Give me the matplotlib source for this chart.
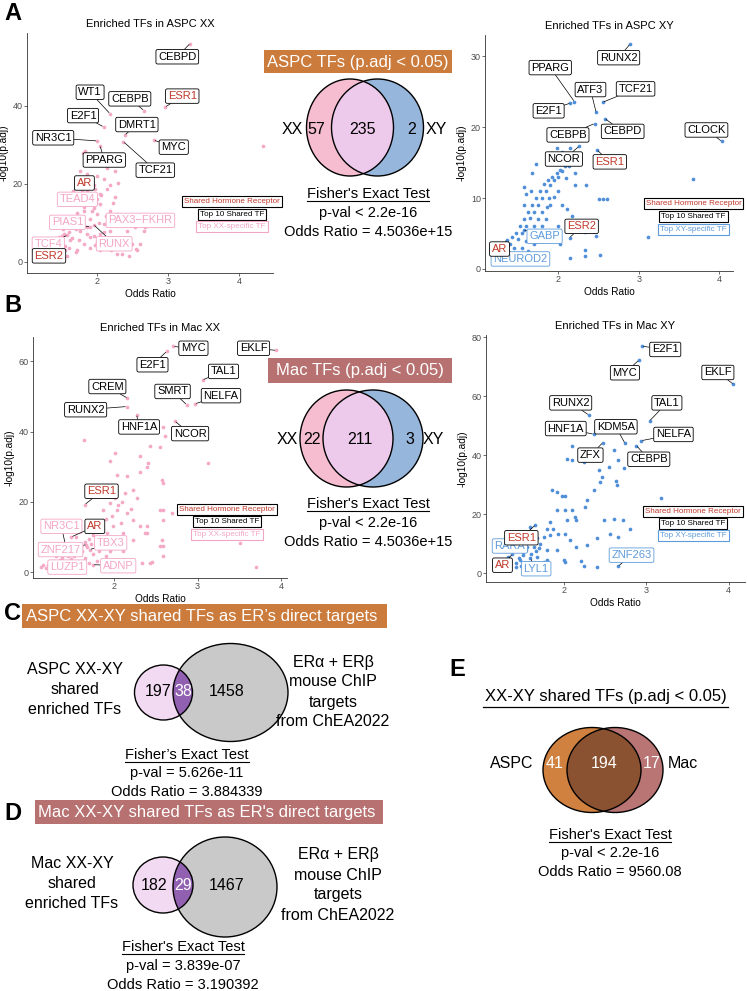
import numpy as np
import matplotlib
matplotlib.use("Agg")
import matplotlib.pyplot as plt
from matplotlib.patches import Ellipse, Rectangle

plt.rcParams['font.family'] = ['Liberation Sans', 'DejaVu Sans']

W, H = 747, 991

# ---------------- data ----------------
# ASPC XX enriched TFs (odds ratio, -log10 p.adj), unlabelled points
aspc_xx_or = [1.80, 1.85, 1.90, 2.04, 2.14, 2.25, 1.76, 1.88, 2.00, 2.09, 2.18, 2.30, 1.95, 1.85, 1.97,
              2.04, 2.14, 2.25, 1.69, 1.81, 1.95, 2.04, 2.18, 1.57, 1.69, 1.85, 2.00, 2.09, 2.28, 2.37,
              1.76, 1.90, 2.04, 2.18, 1.53, 1.62, 1.38, 1.46, 1.81, 1.97, 1.71, 2.04, 2.28, 2.49, 2.56,
              2.68, 2.54, 2.42, 2.14, 1.38, 1.29, 4.34, 2.66, 2.60, 2.55, 1.45, 1.50, 1.55, 1.60, 1.65,
              1.70, 1.75, 1.80, 1.85, 1.90, 1.95, 1.60, 1.70, 1.75, 1.82, 1.88, 1.92, 1.78, 1.98, 2.02,
              2.10, 1.66, 1.72, 1.52, 1.42, 1.48, 1.58, 1.90, 2.00, 2.12, 2.20, 2.35, 2.45, 1.35, 1.92,
              1.86, 2.06, 2.22, 2.10, 1.83, 2.30]
aspc_xx_p = [28.0, 27.0, 25.7, 25.9, 24.0, 23.2, 23.2, 21.5, 21.9, 21.1, 19.8, 20.3, 19.8, 18.1, 18.6,
             17.3, 18.6, 16.5, 14.8, 13.1, 13.9, 14.8, 13.1, 11.4, 9.7, 8.9, 12.2, 9.7, 12.2, 11.4,
             8.0, 6.3, 7.2, 8.0, 7.2, 5.5, 5.5, 6.3, 4.6, 4.2, 3.0, 3.0, 2.1, 4.6, 3.0,
             8.9, 8.9, 8.0, 5.1, 2.1, 2.1, 29.8, 8.0, 4.6, 3.3, 5.0, 6.5, 4.0, 7.5, 6.0,
             8.5, 5.5, 10.0, 7.0, 11.0, 6.5, 3.5, 2.5, 11.5, 14.0, 16.0, 13.0, 18.5, 15.0, 10.0,
             7.5, 10.5, 12.5, 8.5, 3.5, 2.5, 1.5, 3.5, 5.0, 4.0, 3.0, 2.0, 1.5, 4.5, 20.5,
             22.5, 17.0, 15.0, 27.0, 28.5, 6.0]
# labelled TFs: name, odds ratio, -log10 p.adj, label x, label y, kind (s=shared, h=hormone, x=specific)
aspc_xx_labels = [
    ("CEBPD", 3.31, 56.0, 3.13, 52.6, "s"), ("WT1", 2.18, 38.0, 1.90, 43.5, "s"),
    ("CEBPB", 2.66, 38.8, 2.46, 41.8, "s"), ("ESR1", 2.96, 39.7, 3.20, 42.5, "h"),
    ("E2F1", 2.09, 34.6, 1.80, 37.5, "s"), ("DMRT1", 2.39, 32.5, 2.56, 35.2, "s"),
    ("NR3C1", 2.00, 31.0, 1.38, 31.8, "s"), ("MYC", 2.80, 31.2, 3.08, 29.4, "s"),
    ("PPARG", 2.04, 29.8, 2.10, 26.1, "s"), ("TCF21", 2.37, 30.8, 2.82, 23.5, "s"),
    ("AR", 1.66, 18.2, 1.82, 20.2, "h"), ("TEAD4", 2.00, 16.0, 1.72, 16.0, "x"),
    ("PIAS1", 1.90, 8.9, 1.58, 10.1, "x"), ("PAX3\u2212FKHR", 2.13, 11.8, 2.61, 10.6, "x"),
    ("RUNX", 1.95, 9.5, 2.24, 4.6, "x"), ("TCF4", 1.58, 6.8, 1.31, 4.5, "x"),
    ("ESR2", 1.55, 3.0, 1.32, 1.5, "h")]

aspc_xy_or = [1.40, 1.42, 1.45, 1.47, 1.50, 1.52, 1.55, 1.57, 1.60, 1.62, 1.65, 1.67, 1.70, 1.72, 1.75,
              1.77, 1.80, 1.82, 1.85, 1.87, 1.90, 1.92, 1.95, 1.98, 2.00, 2.02, 2.05, 2.08, 2.10, 1.55,
              1.60, 1.65, 1.70, 1.75, 1.80, 1.62, 1.70, 1.78, 1.85, 1.90, 1.95, 1.50, 1.58, 1.66, 1.72,
              1.67, 1.94, 2.21, 2.21, 2.34, 2.11, 2.17, 1.86, 2.50, 2.55, 2.61, 2.47, 2.52, 2.33, 2.33,
              2.15, 2.33, 3.67, 3.11, 1.45, 1.55, 1.35, 1.90, 2.00, 2.05, 1.80, 1.88, 2.00, 2.05, 2.15,
              1.98, 2.13, 1.75, 1.68, 1.80, 2.02, 1.60, 1.58]
aspc_xy_p = [3.5, 4.5, 3.0, 5.0, 4.2, 6.0, 5.0, 7.0, 6.0, 8.0, 7.2, 9.0, 8.0, 10.0, 9.0,
             11.0, 10.0, 12.0, 11.0, 12.5, 11.8, 13.0, 12.5, 13.5, 13.0, 14.0, 13.8, 14.5, 12.8, 3.0,
             4.0, 5.0, 6.0, 7.0, 8.0, 2.5, 3.5, 5.0, 7.0, 9.0, 10.2, 2.2, 9.0, 11.0, 14.8,
             13.5, 15.2, 13.5, 11.9, 11.9, 8.4, 7.4, 8.8, 9.8, 9.8, 9.8, 4.6, 1.9, 2.7, 1.8,
             1.6, 5.2, 12.7, 4.5, 2.0, 1.5, 2.5, 4.5, 6.0, 9.0, 6.0, 10.0, 11.0, 16.5, 17.0,
             17.0, 14.5, 4.5, 2.2, 2.0, 3.5, 10.5, 11.5]
aspc_xy_labels = [
    ("RUNX2", 2.89, 31.7, 2.75, 29.8, "s"), ("PPARG", 2.20, 23.6, 1.90, 28.4, "s"),
    ("ATF3", 2.47, 22.1, 2.40, 25.3, "s"), ("TCF21", 2.55, 23.5, 2.96, 25.4, "s"),
    ("E2F1", 2.15, 23.4, 1.88, 22.3, "s"), ("CEBPB", 2.45, 20.5, 2.12, 18.9, "s"),
    ("CEBPD", 2.58, 21.2, 2.80, 19.4, "s"), ("CLOCK", 4.03, 18.0, 3.84, 19.6, "s"),
    ("NCOR", 2.26, 17.3, 2.07, 15.5, "s"), ("ESR1", 2.48, 16.8, 2.64, 15.1, "h"),
    ("ESR2", 2.14, 4.4, 2.29, 6.0, "h"), ("GABP", 1.57, 5.5, 1.83, 4.6, "x"),
    ("NEUROD2", 1.34, 3.0, 1.53, 1.4, "x"), ("AR", 1.36, 4.1, 1.27, 2.8, "h")]

mac_xx_or = [1.64, 1.95, 2.01, 2.03, 2.15, 2.31, 2.41, 2.43, 2.39, 2.31, 2.59, 2.23, 2.13, 2.01, 1.95,
             1.87, 2.03, 2.15, 2.23, 2.31, 2.39, 2.23, 2.11, 2.55, 2.59, 2.55, 2.59, 2.45, 2.33, 2.39,
             1.83, 1.91, 1.99, 2.03, 2.11, 1.79, 1.67, 1.55, 2.55, 2.61, 2.59, 3.13, 2.57, 2.59, 2.69,
             2.57, 2.59, 3.51, 3.70, 2.43, 2.37, 1.12, 1.15, 1.18, 1.22, 1.25, 1.28, 1.32, 1.35, 1.38,
             1.40, 1.45, 1.48, 1.50, 1.52, 1.55, 1.58, 1.60, 1.62, 1.65, 1.68, 1.70, 1.72, 1.75, 1.78,
             1.80, 1.82, 1.85, 1.30, 1.42, 1.60, 1.70, 1.80, 1.90, 1.95, 1.65, 1.75, 1.85, 1.90, 1.98,
             2.05, 2.10, 1.95, 2.20, 2.28, 2.00, 2.08]
mac_xx_p = [37.5, 31.5, 33.9, 27.7, 27.2, 28.6, 31.0, 35.9, 30.0, 32.9, 25.3, 23.4, 22.5, 21.0, 19.6,
            17.7, 17.7, 16.8, 14.9, 13.0, 11.1, 9.2, 11.1, 17.7, 14.9, 7.3, 4.5, 2.8, 2.6, 13.0,
            13.9, 11.1, 13.0, 7.3, 5.9, 9.2, 13.0, 10.1, 35.7, 38.6, 41.4, 31.0, 26.3, 17.7, 16.8,
            9.2, 7.3, 8.3, 1.4, 2.6, 11.1, 1.5, 2.0, 1.2, 2.5, 1.8, 3.0, 2.2, 3.5, 4.0,
            2.8, 4.5, 3.8, 5.5, 4.5, 6.5, 5.0, 7.5, 6.0, 8.5, 7.0, 9.5, 8.0, 10.5, 7.5,
            11.5, 6.0, 9.0, 4.5, 5.8, 2.0, 2.5, 3.0, 4.5, 6.0, 4.0, 5.0, 12.5, 15.0, 16.0,
            19.0, 20.0, 24.0, 18.0, 21.0, 9.0, 14.0]
mac_xx_labels = [
    ("MYC", 2.71, 64.2, 2.95, 63.7, "s"), ("E2F1", 2.63, 62.8, 2.46, 59.0, "s"),
    ("EKLF", 3.94, 63.1, 3.67, 63.7, "s"), ("TAL1", 3.06, 54.7, 3.31, 57.1, "s"),
    ("SMRT", 2.87, 47.6, 2.70, 51.4, "s"), ("NELFA", 2.97, 47.9, 3.28, 50.2, "s"),
    ("CREM", 2.16, 49.5, 1.92, 52.8, "s"), ("RUNX2", 2.15, 47.1, 1.66, 46.2, "s"),
    ("HNF1A", 2.27, 44.8, 2.30, 41.3, "s"), ("NCOR", 2.73, 42.9, 2.91, 39.4, "s"),
    ("ESR1", 1.65, 19.2, 1.85, 23.0, "h"), ("NR3C1", 1.43, 6.4, 1.37, 13.0, "x"),
    ("AR", 1.49, 10.0, 1.77, 13.0, "h"), ("TBX3", 1.71, 6.4, 1.96, 8.3, "x"),
    ("ZNF217", 1.67, 7.8, 1.36, 6.4, "x"), ("LUZP1", 1.21, 2.1, 1.44, 1.4, "x"),
    ("ADNP", 1.75, 2.1, 2.05, 1.8, "x")]

mac_xy_or = [3.18, 2.80, 2.72, 2.61, 2.66, 2.56, 2.48, 2.40, 2.40, 2.24, 2.20, 2.01, 2.46, 2.44, 2.36,
             2.28, 2.26, 2.54, 2.42, 2.66, 2.61, 2.73, 2.63, 2.64, 2.04, 2.09, 2.09, 2.24, 1.85, 1.91,
             1.97, 2.01, 1.91, 2.01, 2.09, 2.13, 2.03, 2.15, 1.83, 1.79, 1.87, 1.93, 2.01, 2.07, 2.15,
             2.28, 1.91, 1.79, 1.79, 2.00, 1.71, 1.67, 1.75, 1.83, 1.59, 1.63, 1.54, 1.50, 1.46, 1.42,
             1.67, 1.75, 1.54, 1.42, 1.34, 1.32, 1.45, 1.50, 1.55, 1.60, 1.62, 1.70, 1.48, 1.58, 1.66]
mac_xy_p = [25.3, 15.1, 18.0, 18.2, 12.3, 13.4, 18.0, 11.8, 2.1, 2.4, 4.1, 3.8, 32.7, 31.0, 28.1,
            24.7, 22.5, 36.0, 34.9, 38.3, 41.7, 35.5, 31.2, 29.8, 38.6, 43.2, 38.3, 37.7, 28.1, 27.6,
            26.1, 26.1, 21.4, 21.4, 21.4, 19.1, 18.0, 18.0, 17.4, 15.1, 15.1, 13.4, 13.4, 11.2, 8.9,
            9.5, 7.8, 7.8, 4.4, 4.4, 10.0, 11.8, 12.3, 12.9, 15.7, 8.9, 7.8, 6.1, 4.4, 3.3,
            5.5, 3.8, 3.3, 2.1, 3.8, 5.5, 5.0, 7.0, 9.0, 6.5, 12.0, 8.5, 2.5, 3.0, 7.5]
mac_xy_labels = [
    ("E2F1", 2.95, 76.9, 3.23, 75.8, "s"), ("MYC", 2.91, 72.2, 2.74, 67.9, "s"),
    ("EKLF", 4.06, 64.0, 3.87, 68.0, "s"), ("RUNX2", 2.30, 53.6, 2.08, 57.7, "s"),
    ("TAL1", 3.04, 51.6, 3.25, 57.7, "s"), ("HNF1A", 2.36, 47.1, 2.02, 49.0, "s"),
    ("KDM5A", 2.74, 44.0, 2.63, 49.6, "s"), ("NELFA", 2.94, 44.9, 3.33, 47.0, "s"),
    ("CEBPB", 2.88, 43.2, 3.03, 38.6, "s"), ("ZFX", 2.47, 44.2, 2.32, 40.0, "s"),
    ("RARA", 1.59, 10.8, 1.34, 9.2, "x"), ("ESR1", 1.65, 16.3, 1.48, 12.0, "h"),
    ("AR", 1.37, 6.4, 1.25, 2.7, "h"), ("LYL1", 1.59, 5.0, 1.66, 1.5, "x"),
    ("ZNF263", 2.66, 2.4, 2.82, 6.1, "x")]

# Venn counts
aspc_venn = [57, 235, 2]
mac_venn = [22, 211, 3]
aspc_er_venn = [197, 38, 1458]
mac_er_venn = [182, 29, 1467]
shared_venn = [41, 194, 17]

aspc_stats = ["p-val < 2.2e-16", "Odds Ratio = 4.5036e+15"]
mac_stats = ["p-val < 2.2e-16", "Odds Ratio = 4.5036e+15"]
aspc_er_stats = ["p-val = 5.626e-11", "Odds Ratio = 3.884339"]
mac_er_stats = ["p-val = 3.839e-07", "Odds Ratio = 3.190392"]
shared_stats = ["p-val < 2.2e-16", "Odds Ratio = 9560.08"]

# ---------------- colours ----------------
ORANGE = "#CB7B3B"
ROSE = "#B87171"
PINK_PT = "#F4A9C6"
BLUE_PT = "#4F8ED8"
RED_TXT = "#C0392B"
PINK_TXT = "#F3A5C5"
BLUE_TXT = "#5E9BDA"

fig = plt.figure(figsize=(W / 100, H / 100), dpi=100)


def add_ax(x0, y0, x1, y1):
    return fig.add_axes([x0 / W, 1 - y1 / H, (x1 - x0) / W, (y1 - y0) / H])


def scatter_panel(box, title, xs, ys, labels, pcol, scol, sname, xlim, ylim, yticks, leg):
    ax = add_ax(*box)
    ax.patch.set_alpha(0)
    lx = [l[1] for l in labels]
    ly = [l[2] for l in labels]
    ax.scatter(list(xs) + lx, list(ys) + ly, s=7, color=pcol, lw=0, zorder=2)
    for name, px, py, tx, ty, kind in labels:
        if kind == "h":
            tc, ec = RED_TXT, "black"
        elif kind == "x":
            tc, ec = scol, scol
        else:
            tc, ec = "black", "black"
        ax.annotate(name, xy=(px, py), xytext=(tx, ty), ha="center", va="center",
                    fontsize=8, color=tc, zorder=4,
                    bbox=dict(boxstyle="round,pad=0.2,rounding_size=0.15", fc="white", ec=ec, lw=0.6),
                    arrowprops=dict(arrowstyle="-", color="black", lw=0.5, shrinkA=0, shrinkB=1))
    lgx, lgy = leg
    items = [("Shared Hormone Receptor", RED_TXT, "black"),
             ("Top 10 Shared TF", "black", "black"),
             (sname, scol, scol)]
    for (txt_, tc, ec), yy in zip(items, lgy):
        ax.text(lgx, yy, txt_, fontsize=5.8, color=tc, ha="center", va="center", zorder=5,
                bbox=dict(boxstyle="square,pad=0.25", fc="white", ec=ec, lw=0.8))
    ax.set_xlim(*xlim)
    ax.set_ylim(*ylim)
    ax.set_xticks([2, 3, 4])
    ax.set_yticks(yticks)
    for s in ["top", "right"]:
        ax.spines[s].set_visible(False)
    for s in ["left", "bottom"]:
        ax.spines[s].set_linewidth(0.6)
        ax.spines[s].set_color("#333333")
    ax.tick_params(labelsize=6.5, labelcolor="#4D4D4D", color="#333333", length=2, width=0.5, pad=1)
    ax.set_title(title, fontsize=8, pad=4)
    ax.set_xlabel("Odds Ratio", fontsize=7.3, labelpad=2)
    ax.set_ylabel("-log10(p.adj)", fontsize=7.3, labelpad=3)
    return ax


scatter_panel((27, 33, 273, 273), "Enriched TFs in ASPC XX", aspc_xx_or, aspc_xx_p, aspc_xx_labels,
              PINK_PT, PINK_TXT, "Top XX-specific TF", (1.01, 4.48), (-2.9, 58.7), [0, 20, 40],
              (3.9, [15.4, 12.2, 9.1]))
scatter_panel((485, 35, 733, 271), "Enriched TFs in ASPC XY", aspc_xy_or, aspc_xy_p, aspc_xy_labels,
              BLUE_PT, BLUE_TXT, "Top XY-specific TF", (1.09, 4.17), (-0.3, 33), [0, 10, 20, 30],
              (3.68, [9.2, 7.4, 5.6]))
scatter_panel((33, 337, 287, 578), "Enriched TFs in Mac XX", mac_xx_or, mac_xx_p, mac_xx_labels,
              PINK_PT, PINK_TXT, "Top XX-specific TF", (1.03, 4.07), (-1.7, 66.9), [0, 20, 40, 60],
              (3.35, [17.9, 14.4, 10.8]))
scatter_panel((486, 335, 745, 582), "Enriched TFs in Mac XY", mac_xy_or, mac_xy_p, mac_xy_labels,
              BLUE_PT, BLUE_TXT, "Top XY-specific TF", (1.05, 4.2), (-3, 80.7), [0, 20, 40, 60, 80],
              (3.57, [21.0, 16.9, 12.8]))

# ---------------- overlay for Venn panels ----------------
ov = fig.add_axes([0, 0, 1, 1], zorder=10)
ov.set_xlim(0, W)
ov.set_ylim(H, 0)
ov.axis("off")


def venn2(c1, s1, c2, s2, f1, f2, f12):
    e1 = Ellipse(c1, s1[0], s1[1], fc=f1, ec="none")
    e2 = Ellipse(c2, s2[0], s2[1], fc=f2, ec="none")
    ov.add_patch(e1)
    ov.add_patch(e2)
    e12 = Ellipse(c2, s2[0], s2[1], fc=f12, ec="none")
    ov.add_patch(e12)
    e12.set_clip_path(e1)
    for c, s in ((c1, s1), (c2, s2)):
        ov.add_patch(Ellipse(c, s[0], s[1], fc="none", ec="black", lw=1.0))


def title_box(x0, y0, x1, y1, txt_, col, tx=None):
    ov.add_patch(Rectangle((x0, y0), x1 - x0, y1 - y0, fc=col, ec="none"))
    ov.text((x0 + x1) / 2 if tx is None else tx, (y0 + y1) / 2 + 0.5, txt_, color="white",
            fontsize=12, ha="center", va="center")


underlined = []


def stats_block(x, y0, head, lines, step=19):
    t = ov.text(x, y0, head, fontsize=10.5, ha="center", va="center")
    underlined.append(t)
    for i, s in enumerate(lines):
        ov.text(x, y0 + step * (i + 1), s, fontsize=10.5, ha="center", va="center")


def txt(x, y, s, size=11.5, color="black", **kw):
    ov.text(x, y, s, fontsize=size, color=color, ha="center", va="center", **kw)


# panel letters
for letter, lx, ly in [("A", 4, 13), ("B", 4, 305), ("C", 4, 613), ("D", 4, 813), ("E", 449, 670)]:
    ov.text(lx, ly, letter, fontsize=17, fontweight="bold", ha="left", va="center")

# A venn
title_box(264, 50, 452, 73, "ASPC TFs (p.adj < 0.05)", ORANGE)
venn2((350, 127.5), (87, 97), (377.5, 127.5), (92, 97), "#F6BDD1", "#97B6DC", "#EDCAEC")
txt(292, 129, "XX")
txt(436, 129, "XY")
for v, x in zip(aspc_venn, [316, 363, 412]):
    txt(x, 129, str(v))
stats_block(368, 194, "Fisher's Exact Test", aspc_stats)

# B venn
title_box(268, 358, 452, 383, "Mac TFs (p.adj < 0.05)", ROSE)
venn2((346.5, 438.5), (93, 97), (373, 438.5), (100, 97), "#F6BDD1", "#97B6DC", "#EDCAEC")
txt(287, 439, "XX")
txt(433, 439, "XY")
for v, x in zip(mac_venn, [312, 360, 410]):
    txt(x, 439, str(v))
stats_block(368, 504, "Fisher's Exact Test", mac_stats)

# C
title_box(22, 604, 387, 628, "ASPC XX-XY shared TFs as ER\u2019s direct targets", ORANGE, tx=202)
venn2((163.5, 692.5), (58, 55), (230.5, 692.5), (115, 98), "#F3DAF3", "#C9C9C9", "#9160B0")
for i, s in enumerate(["ASPC XX-XY", "shared", "enriched TFs"]):
    txt(75, 670 + 20 * i, s)
for i, s in enumerate(["ER\u03b1 + ER\u03b2", "mouse ChIP", "targets", "from ChEA2022"]):
    txt(333, 662 + 20 * i, s)
txt(158, 691, str(aspc_er_venn[0]))
txt(183, 691, str(aspc_er_venn[1]), color="white")
txt(227, 691, str(aspc_er_venn[2]))
stats_block(187, 755, "Fisher\u2019s Exact Test", aspc_er_stats, step=18.5)

# D
title_box(35, 800, 383, 824, "Mac XX-XY shared TFs as ER's direct targets", ROSE, tx=207)
venn2((163, 885), (60, 56), (225, 887), (104, 100), "#F3DAF3", "#C9C9C9", "#9160B0")
for i, s in enumerate(["Mac XX-XY", "shared", "enriched TFs"]):
    txt(72, 863 + 20 * i, s)
for i, s in enumerate(["ER\u03b1 + ER\u03b2", "mouse ChIP", "targets", "from ChEA2022"]):
    txt(338, 855 + 20 * i, s)
txt(154, 886, str(mac_er_venn[0]))
txt(183, 886, str(mac_er_venn[1]), color="white")
txt(227, 886, str(mac_er_venn[2]))
stats_block(183, 947, "Fisher's Exact Test", mac_er_stats, step=19)

# E
ov.text(606, 697, "XX-XY shared TFs (p.adj < 0.05)", fontsize=12, ha="center", va="center")
ov.plot([483, 728], [707, 707], color="black", lw=0.9)
venn2((592, 770), (98, 85), (615, 770), (96, 85), "#D0813F", "#B97474", "#8B5231")
txt(512, 763, "ASPC")
txt(683, 763, "Mac")
for v, x in zip(shared_venn, [555, 604, 652]):
    txt(x, 763, str(v), color="white")
stats_block(610, 835, "Fisher's Exact Test", shared_stats, step=18.5)

# underline the Fisher headings
fig.canvas.draw()
inv = ov.transData.inverted()
for t in underlined:
    bb = t.get_window_extent()
    (x0, yb), (x1, _) = inv.transform([[bb.x0, bb.y0], [bb.x1, bb.y1]])
    ov.plot([x0, x1], [yb, yb], color="black", lw=0.8)

fig.savefig("out.png", dpi=100)
